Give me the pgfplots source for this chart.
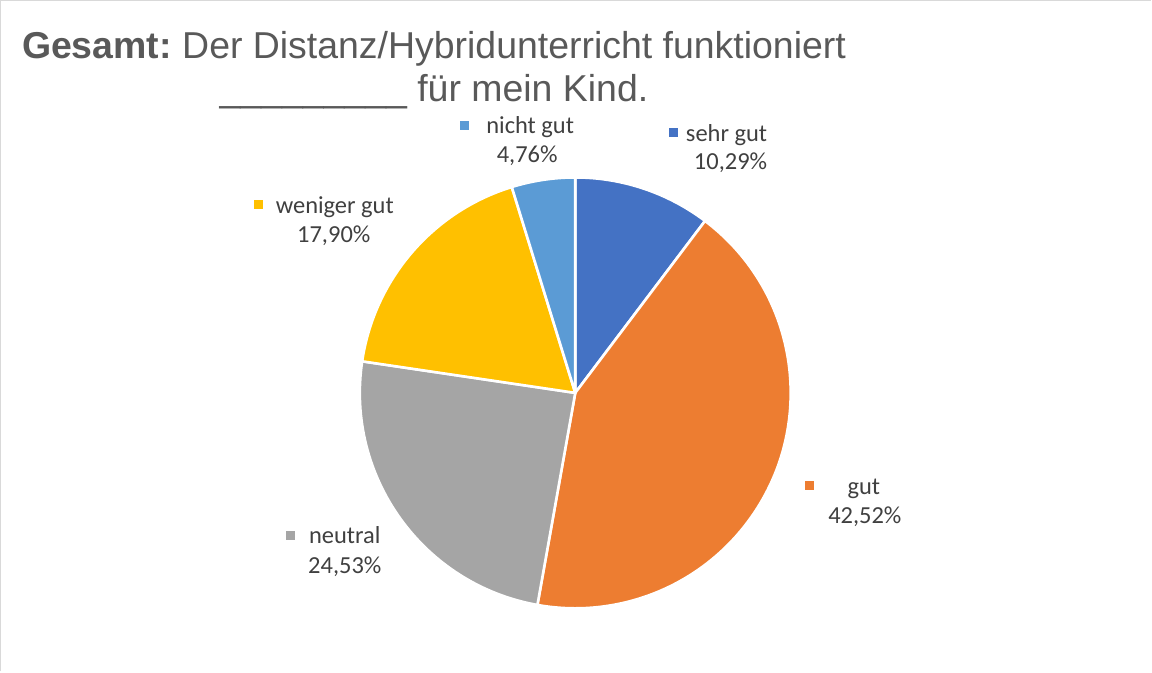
\documentclass[border=0pt]{standalone}
\usepackage{pgfplots}
\pgfplotsset{compat=1.18}
\usepackage{fontspec}
\setmainfont{Carlito}
\newfontfamily\arialf{Liberation Sans}
\definecolor{cA}{HTML}{4472C4}
\definecolor{cB}{HTML}{ED7D31}
\definecolor{cC}{HTML}{A5A5A5}
\definecolor{cD}{HTML}{FFC000}
\definecolor{cE}{HTML}{5B9BD5}
\definecolor{txt}{HTML}{404040}
\definecolor{ttl}{HTML}{595959}
\definecolor{frame}{HTML}{D9D9D9}
\frenchspacing
% shares in percent: sehr gut, gut, neutral, weniger gut, nicht gut
\def\vA{10.29}\def\vB{42.52}\def\vC{24.53}\def\vD{17.90}\def\vE{4.76}
\pgfmathsetmacro\aO{90}
\pgfmathsetmacro\aA{\aO-3.6*\vA}
\pgfmathsetmacro\aB{\aA-3.6*\vB}
\pgfmathsetmacro\aC{\aB-3.6*\vC}
\pgfmathsetmacro\aD{\aC-3.6*\vD}
\pgfmathsetmacro\aE{\aD-3.6*\vE}
\begin{document}
\begin{tikzpicture}
\begin{axis}[width=1152bp,height=673bp,scale only axis,
  xmin=0,xmax=1152,ymin=0,ymax=673,hide axis,clip=false]
\draw[frame,line width=1.2bp] (axis cs:3.5,0) -- (axis cs:3.5,669.5) -- (axis cs:1152,669.5);
\def\R{215bp}
\def\C{(axis cs:577,278)}
\fill[cA,draw=white,line width=2.6bp,line join=round] \C -- ++(\aO:\R) arc[start angle=\aO,end angle=\aA,radius=\R] -- cycle;
\fill[cB,draw=white,line width=2.6bp,line join=round] \C -- ++(\aA:\R) arc[start angle=\aA,end angle=\aB,radius=\R] -- cycle;
\fill[cC,draw=white,line width=2.6bp,line join=round] \C -- ++(\aB:\R) arc[start angle=\aB,end angle=\aC,radius=\R] -- cycle;
\fill[cD,draw=white,line width=2.6bp,line join=round] \C -- ++(\aC:\R) arc[start angle=\aC,end angle=\aD,radius=\R] -- cycle;
\fill[cE,draw=white,line width=2.6bp,line join=round] \C -- ++(\aD:\R) arc[start angle=\aD,end angle=\aE,radius=\R] -- cycle;
% title
\node[anchor=base,text=ttl,font=\arialf\fontsize{37.5}{44}\selectfont,inner sep=0] at (axis cs:436,612) {\textbf{Gesamt:} Der Distanz/Hybridunterricht funktioniert};
\node[anchor=base,text=ttl,font=\arialf\fontsize{37.5}{44}\selectfont,inner sep=0] at (axis cs:436,569) {\_\_\_\_\_\_\_\_\_ für mein Kind.};
% labels
\tikzset{lab/.style={anchor=base,text=txt,font=\fontsize{24.5}{29}\selectfont,inner sep=0},
  key/.style={inner sep=0,minimum size=9bp}}
\node[lab] at (axis cs:532,537) {nicht gut};
\node[lab] at (axis cs:529,508) {4,76\%};
\node[key,fill=cE] at (axis cs:466,545) {};
\node[lab] at (axis cs:728,529) {sehr gut};
\node[lab] at (axis cs:732,501) {10,29\%};
\node[key,fill=cA] at (axis cs:675,538) {};
\node[lab] at (axis cs:337,457) {weniger gut};
\node[lab] at (axis cs:336,428) {17,90\%};
\node[key,fill=cD] at (axis cs:261,466) {};
\node[lab] at (axis cs:865,177) {gut};
\node[lab] at (axis cs:866,148) {42,52\%};
\node[key,fill=cB] at (axis cs:811,186) {};
\node[lab] at (axis cs:347,128) {neutral};
\node[lab] at (axis cs:347,98) {24,53\%};
\node[key,fill=cC] at (axis cs:293,136) {};
\end{axis}
\end{tikzpicture}
\end{document}
